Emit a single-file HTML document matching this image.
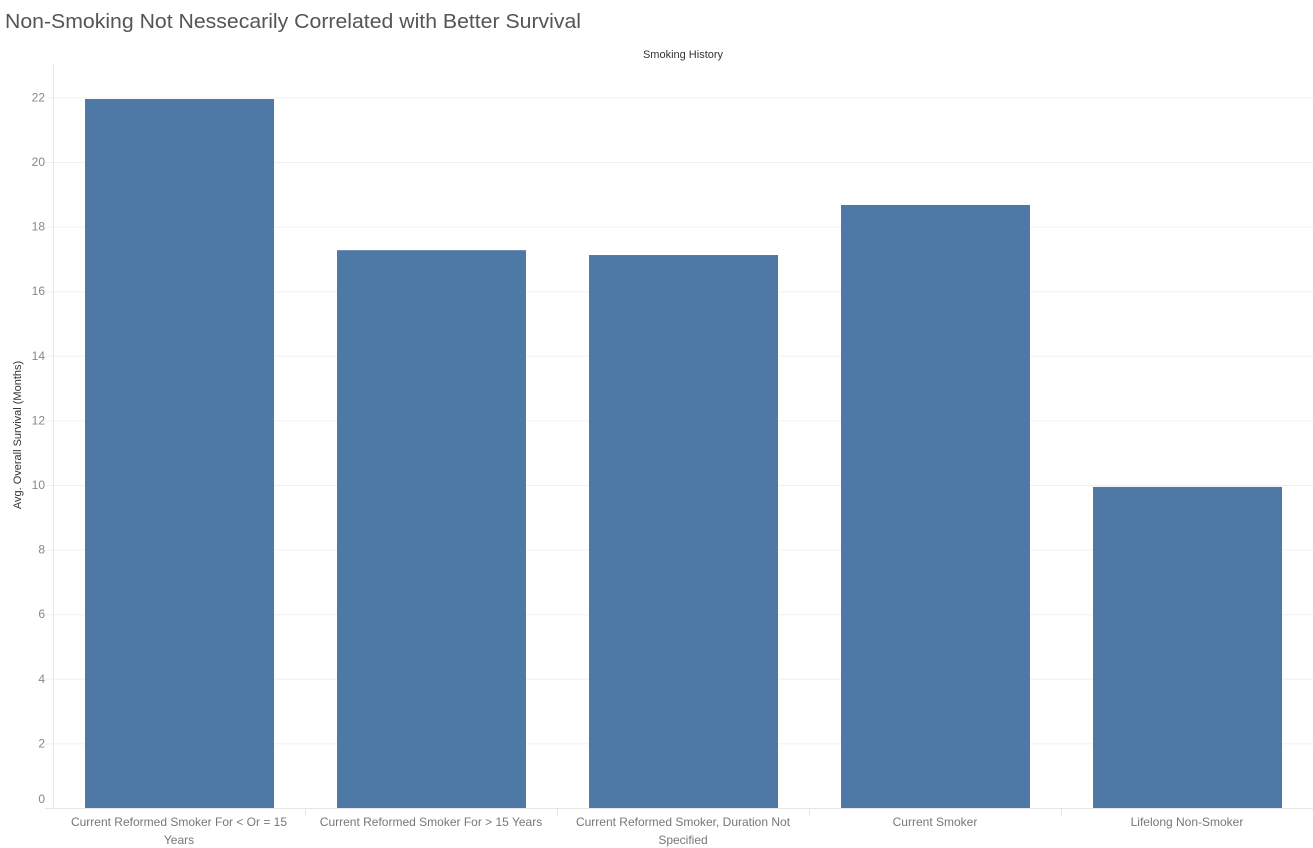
<!DOCTYPE html>
<html><head><meta charset="utf-8"><style>
html,body{margin:0;padding:0;background:#fff;}
svg{display:block;font-family:"Liberation Sans",sans-serif;}
</style></head><body>
<svg id="chart" width="1313" height="848">
<text x="5" y="28" font-size="20" fill="#555" textLength="576" lengthAdjust="spacingAndGlyphs">Non-Smoking Not Nessecarily Correlated with Better Survival</text>
<text x="683" y="58" font-size="11" fill="#333" text-anchor="middle">Smoking History</text>
<text transform="translate(21,435) rotate(-90)" font-size="11" fill="#333" text-anchor="middle">Avg. Overall Survival (Months)</text>
<g id="grid"></g><g id="bars"></g><g id="yticks"></g><g id="xlabels"></g>
<line x1="53.5" y1="64" x2="53.5" y2="808" stroke="#e6e6e6"/>
</svg>
<script>
const categories=[["Current Reformed Smoker For < Or = 15","Years"],["Current Reformed Smoker For > 15 Years"],["Current Reformed Smoker, Duration Not","Specified"],["Current Smoker"],["Lifelong Non-Smoker"]];
const values=[21.95,17.27,17.12,18.67,9.94];
const yTicks=[0,2,4,6,8,10,12,14,16,18,20,22];
const NS="http://www.w3.org/2000/svg";
const x0=53,bandW=252,y0=808,pxPerUnit=32.3;
function y(v){return y0-v*pxPerUnit;}
function bx(i){return x0+i*bandW;}
function mk(tag,attrs,parent){const e=document.createElementNS(NS,tag);for(const k in attrs)e.setAttribute(k,attrs[k]);document.getElementById(parent).appendChild(e);return e;}
yTicks.forEach(t=>{
  const l=mk('line',{x1:45,x2:1313,y1:y(t)+0.5,y2:y(t)+0.5,stroke:t===0?'#e6e6e6':'#f0f0f0'},'grid');
  
  
  const tx=mk('text',{x:45,y:(t===0?y(t)-5:y(t)+4),'font-size':12,fill:'#888','text-anchor':'end'},'yticks');
  tx.textContent=t;
  
  
});
values.forEach((v,i)=>{
  const r=mk('rect',{x:bx(i)+32,y:y(v),width:189,height:y0-y(v),fill:'#4e79a7'},'bars');
  
  
  const s=mk('line',{x1:bx(i+1)+0.5,x2:bx(i+1)+0.5,y1:808,y2:816,stroke:'#e6e6e6'},'grid');
  
  
  categories[i].forEach((line,j)=>{
    const t=mk('text',{x:bx(i)+126,y:826+j*18,'font-size':12,fill:'#777','text-anchor':'middle'},'xlabels');
    t.textContent=line;
    
    
  });
});
</script>
</body></html>
